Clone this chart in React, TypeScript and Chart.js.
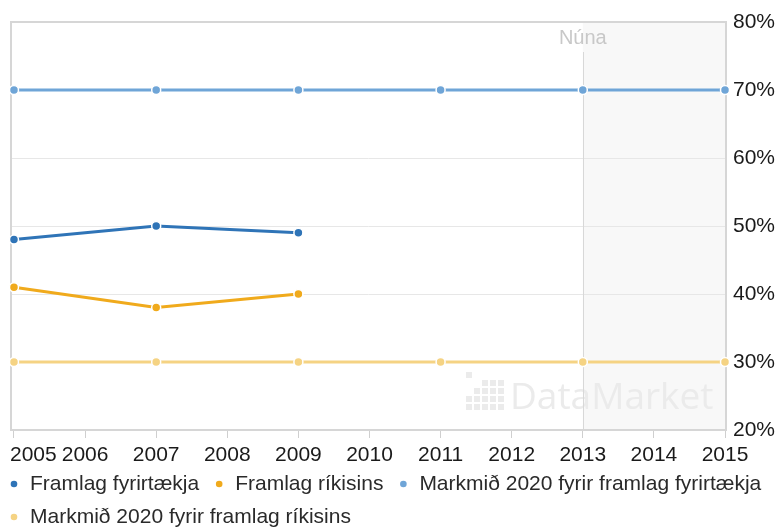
import React, { useEffect, useRef } from "react";
import { Chart, registerables } from "chart.js";

Chart.register(...registerables);

// ---- data ----
const yearTicks = [2005, 2006, 2007, 2008, 2009, 2010, 2011, 2012, 2013, 2014, 2015];
const actualYears = [2005, 2007, 2009];
const framlagFyrirtaekja = [48, 50, 49];
const framlagRikisins = [41, 38, 40];
const targetYears = [2005, 2007, 2009, 2011, 2013, 2015];
const markmidFyrirtaekja = [70, 70, 70, 70, 70, 70];
const markmidRikisins = [30, 30, 30, 30, 30, 30];
const yTickValues = [20, 30, 40, 50, 60, 70, 80];
const seriesLabels = [
  "Framlag fyrirtækja",
  "Framlag ríkisins",
  "Markmið 2020 fyrir framlag fyrirtækja",
  "Markmið 2020 fyrir framlag ríkisins",
];
const seriesColors = ["#2f74b7", "#f0aa1c", "#6fa5d7", "#f5d383"];
const nowYear = 2013;
const nowLabel = "Núna";
const watermarkText = "DataMarket";

const FONT = '"Liberation Sans", Arial, sans-serif';

const toPoints = (xs: number[], ys: number[]) => xs.map((x, i) => ({ x, y: ys[i] }));

const decorPlugin = {
  id: "decor",
  beforeDraw(chart: any) {
    const { ctx, chartArea: a, scales } = chart;
    const nx = scales.x.getPixelForValue(nowYear);
    ctx.save();
    ctx.fillStyle = "#f8f8f8";
    ctx.fillRect(nx, a.top, a.right - nx, a.bottom - a.top);
    ctx.restore();
  },
  beforeDatasetsDraw(chart: any) {
    const { ctx, chartArea: a, scales } = chart;
    const nx = scales.x.getPixelForValue(nowYear);
    ctx.save();
    // watermark logo
    ctx.fillStyle = "#ebebeb";
    const lx = 466;
    const ly = 372;
    const pattern = [
      [1, 0, 0, 0, 0],
      [0, 0, 1, 1, 1],
      [0, 1, 1, 1, 1],
      [1, 1, 1, 1, 1],
      [1, 1, 1, 1, 1],
    ];
    pattern.forEach((row, r) =>
      row.forEach((on, c) => {
        if (on) ctx.fillRect(lx + c * 8, ly + r * 8, 6, 6);
      })
    );
    ctx.font = `37px "Open Sans", ${FONT}`;
    ctx.textBaseline = "alphabetic";
    ctx.textAlign = "left";
    ctx.fillText(watermarkText, 510, 409);
    // now line
    ctx.strokeStyle = "#d8d8d8";
    ctx.lineWidth = 1;
    ctx.beginPath();
    ctx.moveTo(Math.round(nx) + 0.5, 52);
    ctx.lineTo(Math.round(nx) + 0.5, a.bottom);
    ctx.stroke();
    // plot border
    ctx.strokeStyle = "#d6d6d6";
    ctx.lineWidth = 2;
    ctx.strokeRect(a.left, a.top, a.right - a.left, a.bottom - a.top);
    ctx.restore();
  },
  afterDraw(chart: any) {
    const { ctx, chartArea: a, scales } = chart;
    const x = scales.x;
    ctx.save();
    // now label
    ctx.font = `20px ${FONT}`;
    ctx.fillStyle = "#c8c8c8";
    ctx.textAlign = "center";
    ctx.textBaseline = "middle";
    ctx.fillText(nowLabel, x.getPixelForValue(nowYear), 38);
    // x tick labels
    ctx.font = `21px ${FONT}`;
    ctx.fillStyle = "#1a1a1a";
    yearTicks.forEach((yr, i) => {
      const px = x.getPixelForValue(yr);
      if (i === 0) {
        ctx.textAlign = "left";
        ctx.fillText(String(yr), px - 4, a.bottom + 25);
      } else {
        ctx.textAlign = "center";
        ctx.fillText(String(yr), px, a.bottom + 25);
      }
    });
    // legend
    ctx.font = `21px ${FONT}`;
    ctx.textAlign = "left";
    let cx = 14;
    let cy = 484;
    chart.data.datasets.forEach((ds: any) => {
      const w = ctx.measureText(ds.label).width;
      if (cx + 16 + w > chart.width && cx > 14) {
        cx = 14;
        cy += 33;
      }
      ctx.fillStyle = ds.borderColor;
      ctx.beginPath();
      ctx.arc(cx, cy, 3.3, 0, Math.PI * 2);
      ctx.fill();
      ctx.fillStyle = "#2a2a2a";
      ctx.fillText(ds.label, cx + 16, cy);
      cx = cx + 16 + w + 20;
    });
    ctx.restore();
  },
};

const lineDs = (label: string, color: string, data: any[]) => ({
  label,
  data,
  borderColor: color,
  backgroundColor: color,
  borderWidth: 3,
  pointRadius: 4.5,
  pointBorderWidth: 1.5,
  pointBorderColor: "#ffffff",
  pointBackgroundColor: color,
  tension: 0,
  clip: false as any,
});

export default function App() {
  const ref = useRef<HTMLCanvasElement>(null);
  useEffect(() => {
    if (!ref.current) return;
    const chart = new Chart(ref.current, {
      type: "line",
      data: {
        datasets: [
          lineDs(seriesLabels[0], seriesColors[0], toPoints(actualYears, framlagFyrirtaekja)),
          lineDs(seriesLabels[1], seriesColors[1], toPoints(actualYears, framlagRikisins)),
          lineDs(seriesLabels[2], seriesColors[2], toPoints(targetYears, markmidFyrirtaekja)),
          lineDs(seriesLabels[3], seriesColors[3], toPoints(targetYears, markmidRikisins)),
        ],
      },
      options: {
        responsive: false,
        animation: false,
        devicePixelRatio: 1,
        layout: { padding: { left: 11, top: 22, right: 0, bottom: 0 } },
        plugins: {
          legend: { display: false },
          tooltip: { enabled: false },
        },
        scales: {
          x: {
            type: "linear",
            min: 2004.958,
            max: 2015.014,
            afterBuildTicks: (s: any) => {
              s.ticks = yearTicks.map((v) => ({ value: v }));
            },
            afterFit: (s: any) => {
              s.height = 100;
            },
            ticks: { display: false },
            grid: {
              display: true,
              drawOnChartArea: false,
              drawTicks: true,
              tickLength: 8,
              color: "#cfcfcf",
            },
            border: { display: false },
          },
          y: {
            position: "right",
            min: 20,
            max: 80,
            afterBuildTicks: (s: any) => {
              s.ticks = yTickValues.map((v) => ({ value: v }));
            },
            afterFit: (s: any) => {
              s.width = 52;
            },
            ticks: {
              callback: (v: any) => `${v}%`,
              color: "#1a1a1a",
              font: { family: FONT, size: 21 },
              padding: 7,
            },
            grid: { color: "#e7e7e7", drawTicks: false, lineWidth: 1 },
            border: { display: false },
          },
        },
      },
      plugins: [decorPlugin],
    });
    return () => chart.destroy();
  }, []);
  return (
    <div style={{ position: "fixed", left: 0, top: 0, width: 778, height: 530, background: "#fff" }}>
      <canvas ref={ref} width={778} height={530} style={{ width: 778, height: 530, display: "block" }} />
    </div>
  );
}
